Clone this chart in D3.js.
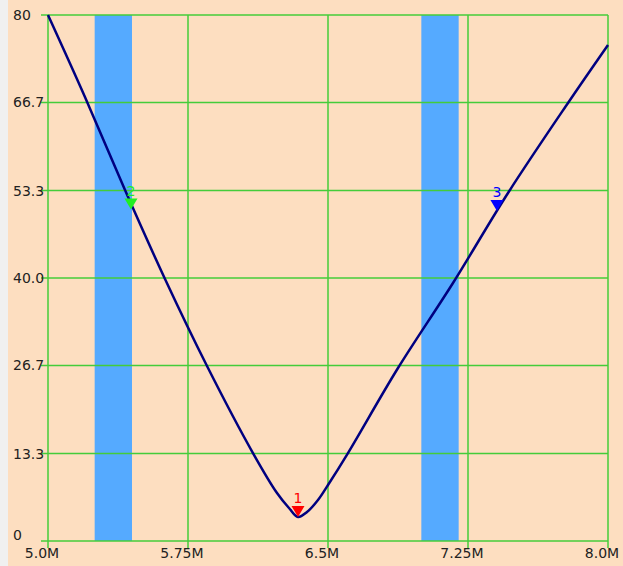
<!DOCTYPE html>
<html>
<head>
<meta charset="utf-8">
<script src="https://cdn.jsdelivr.net/npm/d3@7"></script>
<style>
  body { margin: 0; background: #f0f0f0; }
  svg { display: block; }
</style>
</head>
<body>
<svg width="623" height="566"></svg>
<script>
// frequency (MHz) and level readings of the trace
const freqs = [5.0, 5.198, 5.4125, 5.6268, 5.8518, 6.098, 6.2268, 6.291, 6.3393, 6.3875, 6.4464, 6.5, 6.607, 6.875, 7.1696, 7.4643, 7.7857, 8.0];
const levels = [80.0, 67.53, 53.38, 39.85, 26.62, 13.38, 7.3, 5.02, 3.65, 4.41, 6.24, 8.52, 13.38, 26.31, 39.24, 52.93, 66.62, 75.44];

const xTicks = [5.0, 5.75, 6.5, 7.25, 8.0];
const xTickLabels = ["5.0M", "5.75M", "6.5M", "7.25M", "8.0M"];
const yTicks = [0, 13.3, 26.7, 40.0, 53.3, 66.7, 80];
const yTickLabels = ["0", "13.3", "26.7", "40.0", "53.3", "66.7", "80"];

// shaded bands (start, end in MHz)
const bandStarts = [5.25, 7.0];
const bandEnds = [5.45, 7.2];

// markers
const markerIds = ["1", "2", "3"];
const markerFreqs = [6.3393, 5.4446, 7.405];
const markerLevels = [3.65, 50.4, 50.2];
const markerColors = ["#ff0000", "#22ee22", "#0000ff"];

const svg = d3.select("svg");
const width = +svg.attr("width");
const height = +svg.attr("height");
const margin = {top: 15, right: 15, bottom: 25, left: 48};

svg.append("rect")
    .attr("x", 8).attr("y", 0)
    .attr("width", width - 8).attr("height", height)
    .attr("fill", "#fddec0");

const x = d3.scaleLinear().domain([5.0, 8.0]).range([margin.left, width - margin.right]);
const y = d3.scaleLinear().domain([0, 80]).range([height - margin.bottom, margin.top]);

// bands
svg.append("g").selectAll("rect")
    .data(bandStarts)
    .join("rect")
    .attr("x", d => x(d))
    .attr("y", y(80))
    .attr("width", (d, i) => x(bandEnds[i]) - x(d))
    .attr("height", y(0) - y(80))
    .attr("fill", "#55aaff");

// grid
const grid = svg.append("g").attr("stroke", "#44cc3a").attr("stroke-width", 1.5);
grid.selectAll(".h").data(yTicks).join("line")
    .attr("x1", x(5.0) - 7).attr("x2", x(8.0))
    .attr("y1", d => y(d)).attr("y2", d => y(d));
grid.selectAll(".v").data(xTicks).join("line")
    .attr("y1", y(80)).attr("y2", y(0) + 7)
    .attr("x1", d => x(d)).attr("x2", d => x(d));

// tick labels
const font = "DejaVu Sans, Verdana, sans-serif";
svg.append("g").selectAll("text").data(yTicks).join("text")
    .attr("x", 13)
    .attr("y", d => y(d) + (d === 0 ? -1 : 5))
    .attr("font-family", font).attr("font-size", 14)
    .attr("fill", "#222")
    .text((d, i) => yTickLabels[i]);

svg.append("g").selectAll("text").data(xTicks).join("text")
    .attr("x", d => x(d) - 6)
    .attr("y", 558)
    .attr("text-anchor", "middle")
    .attr("font-family", font).attr("font-size", 14)
    .attr("fill", "#222")
    .text((d, i) => xTickLabels[i]);

// trace
const points = freqs.map((f, i) => ({f, v: levels[i]}));
const line = d3.line()
    .x(d => x(d.f))
    .y(d => y(d.v))
    .curve(d3.curveCatmullRom.alpha(0.5));
svg.append("path")
    .attr("d", line(points))
    .attr("fill", "none")
    .attr("stroke", "#000080")
    .attr("stroke-width", 2.5);

// markers
const mk = svg.append("g").selectAll("g").data(markerIds).join("g")
    .attr("transform", (d, i) => `translate(${x(markerFreqs[i])},${y(markerLevels[i])})`);
mk.append("path")
    .attr("d", "M-6.5,-11 L6.5,-11 L0,0 Z")
    .attr("fill", (d, i) => markerColors[i]);
mk.append("text")
    .attr("y", -14)
    .attr("text-anchor", "middle")
    .attr("font-family", font).attr("font-size", 14)
    .attr("fill", (d, i) => markerColors[i])
    .text(d => d);
</script>
</body>
</html>
